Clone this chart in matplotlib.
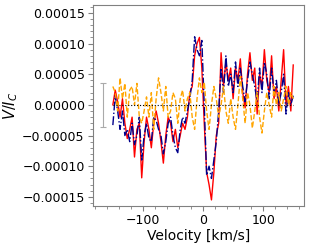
import numpy as np
import matplotlib
matplotlib.use("Agg")
import matplotlib.pyplot as plt
from matplotlib.ticker import AutoMinorLocator

# velocity grid [km/s]
velocity = np.arange(-150, 151, 4)

# Stokes V/Ic profiles, in units of 1e-5
v_red = [0.0, 2.4, 0.5, -2.0, 1.0, -3.0, -5.5, -4.0, -2.0, -8.5,
         -4.0, -3.0, -11.9, -6.0, -2.0, -4.0, -7.0, -3.0, -1.0, -3.0,
         -6.0, -9.5, -5.0, -2.0, -3.0, -6.0, -4.0, -7.0, -5.0, -3.0,
         -4.0, -2.0, 2.0, 3.0, 8.0, 10.0, 11.0, 6.0, -3.0, -11.0,
         -13.0, -15.5, -11.0, -5.0, -3.0, 8.5, 3.0, 7.0, 4.0, 6.0,
         1.0, 6.0, 4.0, 7.5, 2.0, -0.5, 5.0, 8.5, 4.0, 6.0,
         -1.5, 5.0, 3.0, 9.0, 4.0, 2.0, 8.0, 1.0, 3.0, -1.0,
         4.0, 9.0, 0.0, 3.0, -1.0, 6.5]
v_blue = [-3.3, 1.5, -1.0, -4.0, -1.0, -5.0, -4.0, -6.0, -3.0, -6.5,
          -5.0, -2.0, -9.0, -5.0, -3.0, -5.5, -6.0, -2.0, -2.5, -4.0,
          -5.0, -8.0, -6.0, -3.0, -2.0, -5.0, -7.0, -7.8, -4.0, -2.0,
          -3.0, -1.0, 1.0, 4.0, 11.1, 9.0, 8.0, 10.5, 0.0, -11.5,
          -10.0, -12.0, -9.0, -6.0, -1.0, 6.0, 2.0, 8.0, 3.0, 5.0,
          2.0, 7.0, 3.0, 6.0, 3.0, 0.5, 4.0, 7.0, 5.0, 3.0,
          0.5, 6.0, 2.0, 7.0, 5.0, 1.0, 6.0, 2.0, 4.0, 0.0,
          2.0, 5.0, -1.5, 2.0, 0.0, 1.5]
v_orange = [3.0, 2.0, -1.0, 4.4, 1.0, 3.5, -2.0, 2.4, 3.0, 0.0,
            3.5, -2.0, -3.0, -1.0, 1.3, -2.0, 2.0, -4.0, 1.0, 4.4,
            2.0, -1.0, 3.0, -2.0, -1.0, 2.0, 1.0, -3.0, 1.0, 2.4,
            -1.0, 1.0, 2.0, -2.0, -4.0, 1.0, 4.4, 2.0, 3.7, -1.0,
            -4.0, 0.0, 3.0, 1.0, -2.0, 0.0, 3.0, -1.0, -3.0, 1.0,
            -2.0, -4.0, 0.0, 4.6, 1.0, -3.0, 2.0, 0.0, -3.8, -1.0,
            2.0, -2.0, -4.6, -1.0, 2.0, 0.0, -2.0, 3.0, 0.0, 2.0,
            -1.0, 1.0, 3.0, 0.0, 2.0, 1.0]

# representative error bar
err_v = -167
err_size = 3.55

scale = 1e-5

fig = plt.figure(figsize=(3.09, 2.45), dpi=100)
ax = fig.add_axes([0.301, 0.159, 0.683, 0.821])

ax.plot(velocity, np.array(v_red) * scale, color='red', lw=1.0, ls='-')
ax.plot(velocity, np.array(v_blue) * scale, color='darkblue', lw=1.0, ls='-.')
ax.plot(velocity, np.array(v_orange) * scale, color='orange', lw=1.0, ls='--')
ax.plot([velocity[0], velocity[-1]], [0, 0], color='black', lw=0.8, ls=':')
ax.errorbar([err_v], [0], yerr=[err_size * scale], color='#aaaaaa',
            lw=0.8, capsize=2, capthick=0.8)

ax.set_xlim(-183, 168)
ax.set_ylim(-0.000165, 0.000163)
ax.set_yticks([-0.00015, -0.0001, -0.00005, 0, 0.00005, 0.0001, 0.00015])
ax.set_yticklabels(['\u22120.00015', '\u22120.00010', '\u22120.00005', '0.00000',
                    '0.00005', '0.00010', '0.00015'])
ax.set_xticks([-100, 0, 100])
ax.set_xticklabels(['\u2212100', '0', '100'])
ax.xaxis.set_minor_locator(AutoMinorLocator(5))
ax.yaxis.set_minor_locator(AutoMinorLocator(5))
ax.tick_params(labelsize=9, colors='gray', labelcolor='black', pad=2.5)
ax.tick_params(which='minor', colors='gray')
for s in ax.spines.values():
    s.set_color('gray')

ax.set_xlabel('Velocity [km/s]', fontsize=10, labelpad=1)
ax.set_ylabel('$V/I_C$', fontsize=10.5)
ax.yaxis.set_label_coords(-0.345, 0.5)

fig.savefig('out.png', dpi=100)
